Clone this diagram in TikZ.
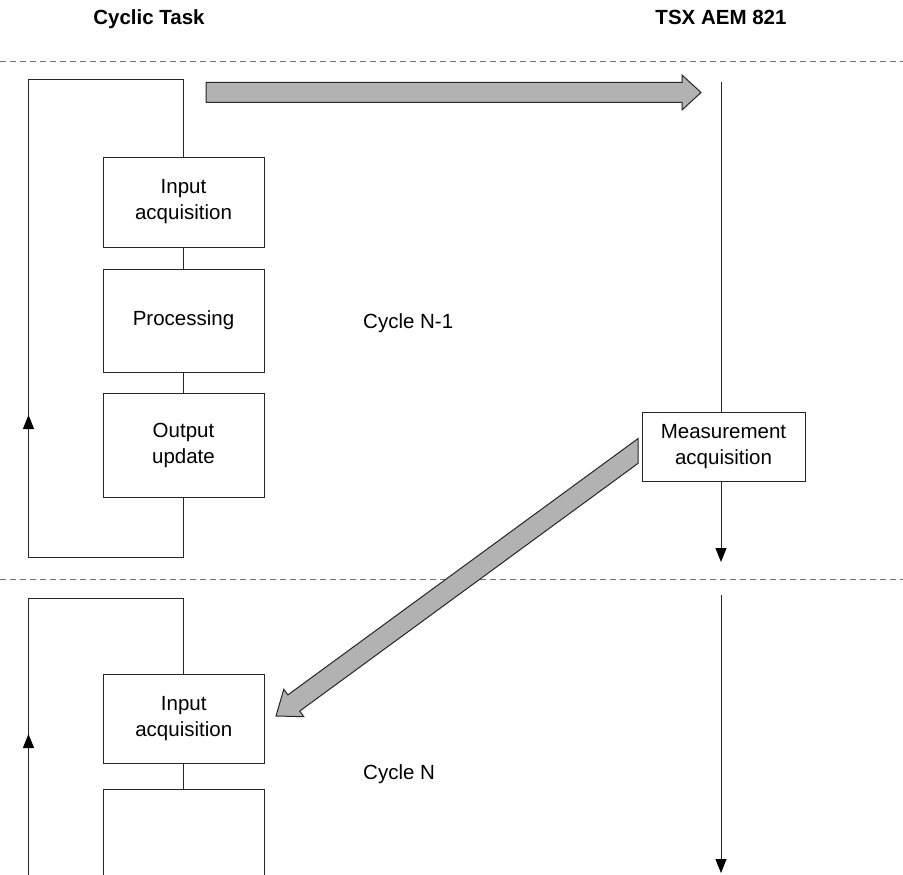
\documentclass[tikz,border=0pt]{standalone}
\usepackage{fontspec}
\setmainfont{Liberation Sans}
\usetikzlibrary{arrows.meta}
\begin{document}
\begin{tikzpicture}[x=1pt,y=-1pt,
  wire/.style={line width=1pt, draw=black!85, line join=miter},
  flow/.style={wire, -{Triangle[width=11pt,length=14pt,fill=black,color=black]}},
  stepbox/.style={draw=black!85, line width=1pt, fill=white, minimum width=161pt,
    text width=150pt, align=center, inner sep=0pt,
    font=\fontsize{20.5}{26}\selectfont},
  sep/.style={dash pattern=on 6pt off 4pt, draw=black!55, line width=1pt},
  bigarrow/.style={fill=black!30, draw=black!85, line width=1pt, line join=miter},
  heading/.style={font=\fontsize{20.5}{24}\selectfont\bfseries, anchor=base, inner sep=0pt},
  cyclelabel/.style={font=\fontsize{20.5}{24}\selectfont, anchor=base west, inner sep=0pt}]
\clip (0,0) rectangle (903,875);
\fill[white] (0,0) rectangle (903,875);

% column headings
\node[heading] (hcyc) at (149,25) {Cyclic Task};
\node[heading] (htsx) at (721,25) {TSX AEM 821};

% cycle separators
\draw[sep] (0,62) -- (903,62);
\draw[sep] (0,579) -- (903,579);

% ---- cycle N-1 : cyclic task loop
\node[stepbox, minimum height=90pt]  (in1)   at (183.5,202)   {Input\\acquisition};
\node[stepbox, minimum height=103pt] (proc1) at (183.5,320.5) {Processing};
\node[stepbox, minimum height=104pt] (out1)  at (183.5,445)   {Output\\update};
\draw[wire] (in1.south) -- (proc1.north);
\draw[wire] (proc1.south) -- (out1.north);
\coordinate (ltop1) at (28.5,80);
\coordinate (lbot1) at (28.5,557);
\coordinate (lup1)  at (28.5,415);
\draw[wire] (out1.south) -- (out1.south |- lbot1) -- (lbot1) -- (ltop1)
  -- (ltop1 -| in1.north) -- (in1.north);
\draw[flow] (lbot1) -- (lup1);

% ---- cycle N-1 : module timeline
\node[stepbox, minimum width=163pt, minimum height=69pt] (meas) at (723.5,446.5) {Measurement\\acquisition};
\coordinate (rtop1) at (721,82);
\coordinate (rend1) at (721,562);
\draw[wire] (rtop1) -- (rtop1 |- meas.north);
\draw[flow] (rend1 |- meas.south) -- (rend1);

\node[cyclelabel] (c1) at (363,328) {Cycle N-1};

% ---- cycle N : cyclic task loop
\node[stepbox, minimum height=89.5pt] (in2)   at (183.75,719) {Input\\acquisition};
\node[stepbox, minimum height=120pt]  (proc2) at (183.75,849) {};
\draw[wire] (in2.south) -- (proc2.north);
\coordinate (ltop2) at (28.5,598);
\coordinate (lbot2) at (28.5,880);
\coordinate (lup2)  at (28.5,734);
\draw[wire] (lbot2) -- (ltop2) -- (ltop2 -| in2.north) -- (in2.north);
\draw[flow] (lbot2) -- (lup2);

% ---- cycle N : module timeline
\coordinate (rtop2) at (721,595);
\coordinate (rend2) at (721,873);
\draw[flow] (rtop2) -- (rend2);

\node[cyclelabel] (c2) at (363,779) {Cycle N};

% ---- exchanges between task and module
\draw[bigarrow] (206,82.5) -- (682,82.5) -- (682,75) -- (701,92.5)
  -- (682,110) -- (682,102.5) -- (206,102.5) -- cycle;
\draw[bigarrow] (638,438.6) -- (287.9,694.9) -- (283.8,689.3) -- (276,716)
  -- (303.8,716.7) -- (299.7,711.1) -- (638,463.4) -- cycle;
\end{tikzpicture}
\end{document}
